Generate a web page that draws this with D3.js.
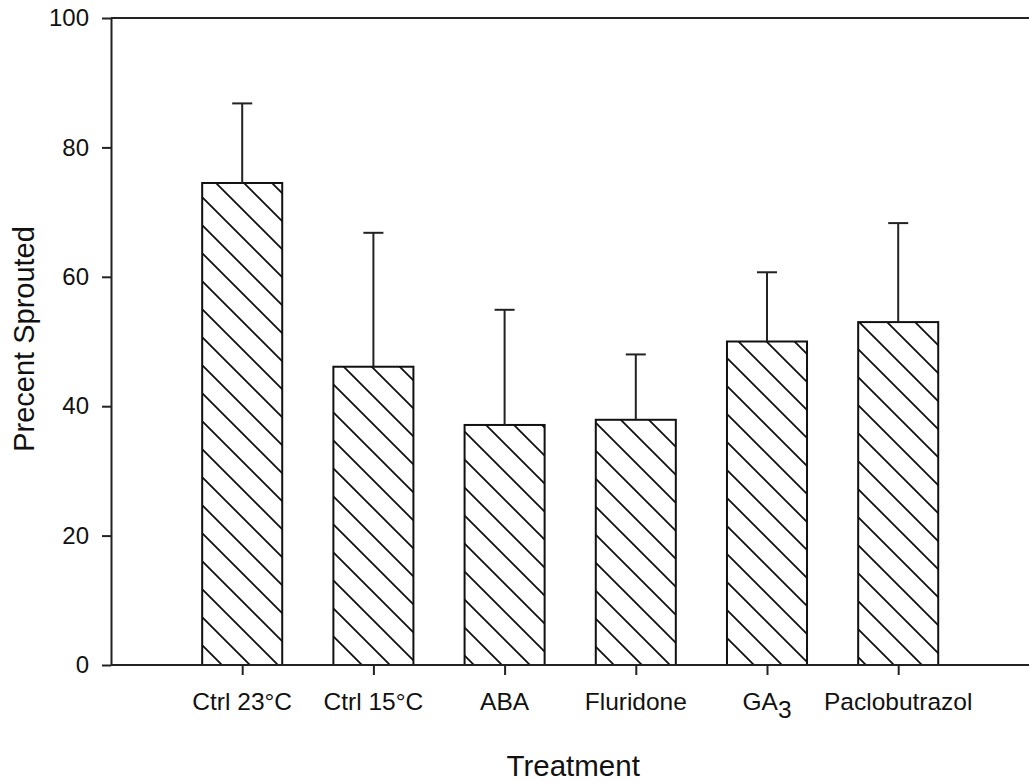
<!DOCTYPE html>
<html>
<head>
<meta charset="utf-8">
<script src="https://cdn.jsdelivr.net/npm/d3@7"></script>
<style>
  body { margin: 0; background: #fff; }
  svg { display: block; }
  text { font-family: "Liberation Sans", Arial, sans-serif; fill: #111; }
</style>
</head>
<body>
<script>
// Percent of tubers sprouted per treatment (mean and standard deviation)
const categories = ["Ctrl 23°C", "Ctrl 15°C", "ABA", "Fluridone", "GA3", "Paclobutrazol"];
const means = [74.5, 46.1, 37.1, 37.9, 50.0, 53.0];
const sd = [12.3, 20.7, 17.8, 10.1, 10.7, 15.3];
const yTicks = [0, 20, 40, 60, 80, 100];

const W = 1029, H = 782;
const plotLeft = 111, plotRight = 1029.4, plotTop = 18, plotBottom = 665;

const svg = d3.select("body").append("svg").attr("width", W).attr("height", H);

// Categories sit at positions 1..6 on a 0..7 linear axis
const x = d3.scaleLinear().domain([0, categories.length + 1]).range([plotLeft, plotRight]);
const y = d3.scaleLinear().domain([0, 100]).range([plotBottom, plotTop]);
const barW = x(0.61) - x(0);

// Diagonal hatch fill
const defs = svg.append("defs");
const pat = defs.append("pattern")
  .attr("id", "hatch")
  .attr("patternUnits", "userSpaceOnUse")
  .attr("x", 5).attr("y", 0)
  .attr("width", 28).attr("height", 28);
pat.append("rect").attr("width", 28).attr("height", 28).attr("fill", "#fff");
pat.append("path")
  .attr("d", "M0,0L28,28M-3,25L3,31M25,-3L31,3")
  .attr("stroke", "#111").attr("stroke-width", 1.8).attr("fill", "none");

// Bars
svg.append("g").selectAll("rect")
  .data(means)
  .join("rect")
  .attr("x", (d, i) => x(i + 1) - barW / 2)
  .attr("y", d => y(d))
  .attr("width", barW)
  .attr("height", d => y(0) - y(d))
  .attr("fill", "url(#hatch)")
  .attr("stroke", "#111")
  .attr("stroke-width", 2);

// Upper error bars
const eb = svg.append("g").attr("stroke", "#222").attr("stroke-width", 2);
means.forEach((m, i) => {
  const cx = x(i + 1);
  eb.append("line").attr("x1", cx).attr("x2", cx).attr("y1", y(m)).attr("y2", y(m + sd[i]));
  eb.append("line").attr("x1", cx - 10).attr("x2", cx + 10).attr("y1", y(m + sd[i])).attr("y2", y(m + sd[i]));
});

// Top frame line
svg.append("line")
  .attr("x1", plotLeft).attr("x2", W).attr("y1", y(100)).attr("y2", y(100))
  .attr("stroke", "#222").attr("stroke-width", 2);

// Y axis
const yAxis = svg.append("g")
  .attr("transform", `translate(${plotLeft},0)`)
  .call(d3.axisLeft(y).tickValues(yTicks).tickSize(9).tickPadding(13).tickSizeOuter(0));
yAxis.select(".domain").attr("stroke", "#222").attr("stroke-width", 2);
yAxis.selectAll(".tick line").attr("stroke", "#222").attr("stroke-width", 2);
yAxis.selectAll(".tick text")
  .attr("font-size", 24).attr("font-family", "Liberation Sans, Arial, sans-serif").attr("fill", "#111");

// X axis
const xAxis = svg.append("g")
  .attr("transform", `translate(0,${plotBottom})`)
  .call(d3.axisBottom(x).tickValues(d3.range(1, categories.length + 1)).tickSize(10).tickSizeOuter(0).tickFormat(""));
xAxis.select(".domain").attr("d", `M${plotLeft},0H${W}`).attr("stroke", "#222").attr("stroke-width", 2);
xAxis.selectAll(".tick line").attr("stroke", "#222").attr("stroke-width", 2);

// Category labels (GA3 gets a subscript)
const lab = svg.append("g").selectAll("text")
  .data(categories)
  .join("text")
  .attr("x", (d, i) => x(i + 1))
  .attr("y", 710)
  .attr("text-anchor", "middle")
  .attr("font-size", 24.5);
lab.each(function (d) {
  const t = d3.select(this);
  const m = d.match(/^(GA)(\d)$/);
  if (m) {
    t.append("tspan").text(m[1]);
    t.append("tspan").attr("dy", 8).text(m[2]);
  } else {
    t.text(d);
  }
});

// Axis titles
svg.append("text")
  .attr("x", (plotLeft + plotRight) / 2 + 3).attr("y", 776)
  .attr("text-anchor", "middle").attr("font-size", 29.5)
  .text("Treatment");

svg.append("text")
  .attr("transform", `translate(34,${339}) rotate(-90)`)
  .attr("text-anchor", "middle").attr("font-size", 29)
  .text("Precent Sprouted");
</script>
</body>
</html>
